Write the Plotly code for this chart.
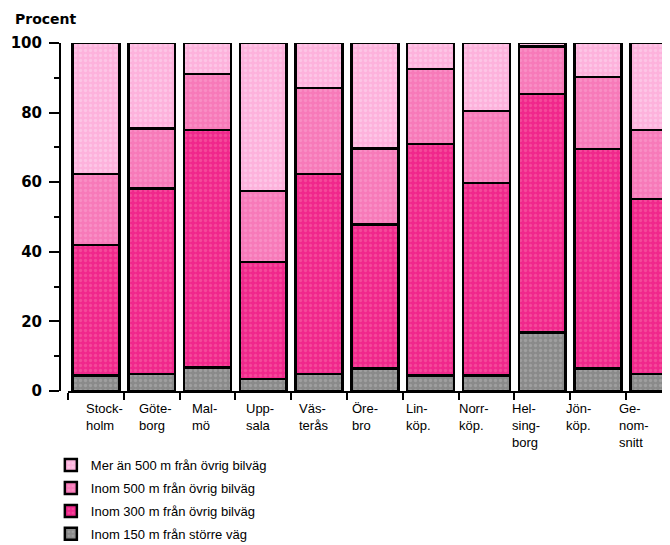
import plotly.graph_objects as go

categories = ["Stock-<br>holm", "Göte-<br>borg", "Mal-<br>mö", "Upp-<br>sala", "Väs-<br>terås",
              "Öre-<br>bro", "Lin-<br>köp.", "Norr-<br>köp.", "Hel-<br>sing-<br>borg", "Jön-<br>köp.",
              "Ge-<br>nom-<br>snitt"]

# percentage shares per segment (bottom to top)
inom150_storre = [4.4, 4.9, 6.7, 3.4, 4.9, 6.5, 4.4, 4.4, 16.8, 6.5, 4.9]
inom300_ovrig = [37.6, 53.3, 68.3, 33.6, 57.5, 41.3, 66.6, 55.3, 68.5, 63.0, 50.3]
inom500_ovrig = [20.4, 17.3, 16.1, 20.5, 24.6, 21.9, 21.5, 20.8, 13.7, 20.8, 19.8]
mer500_ovrig = [37.6, 24.5, 8.9, 42.5, 13.0, 30.3, 7.5, 19.5, 1.0, 9.7, 25.0]

series_names = ["Inom 150 m från större väg", "Inom 300 m från övrig bilväg",
                "Inom 500 m från övrig bilväg", "Mer än 500 m från övrig bilväg"]
series_values = [inom150_storre, inom300_ovrig, inom500_ovrig, mer500_ovrig]
bg_colors = ["#8a8a8a", "#f0288c", "#f77ab9", "#fdb2dc"]
fg_colors = ["#b4b4b4", "#f86aa8", "#fca2cf", "#fdd8f0"]

y_ticks = [0, 20, 40, 60, 80, 100]

x_idx = list(range(len(categories)))

fig = go.Figure()
for k, (name, vals, bg, fg) in enumerate(zip(series_names, series_values, bg_colors, fg_colors)):
    fig.add_trace(go.Bar(
        x=x_idx, y=vals, name=name, legendgroup=name, legendrank=10 - k,
        marker=dict(color=bg, line=dict(color="black", width=2.5),
                    pattern=dict(shape=".", bgcolor=bg, fgcolor=fg, size=5, solidity=0.35)),
    ))

# the page body adds an 8 px offset, so the figure is 8 px smaller
W, H = 662, 537
ml, mr, mt, mb = 52, 0, 35, 154
pw = W - ml - mr
ph = H - mt - mb

fig.update_layout(
    width=W, height=H,
    margin=dict(l=ml, r=mr, t=mt, b=mb, autoexpand=False),
    paper_bgcolor="white", plot_bgcolor="white",
    barmode="stack", bargap=0.16,
    font=dict(family="Liberation Sans, Arial, sans-serif", size=13, color="black"),
    xaxis=dict(
        domain=[8 / pw, 1], range=[-0.5, 10.29],
        tickmode="array", tickvals=x_idx, ticktext=[""] * len(x_idx),
        ticks="", showline=True, linecolor="black", linewidth=2,
        showgrid=False, zeroline=False,
        minor=dict(tickmode="array", tickvals=[i + 0.5 for i in x_idx] + [-0.5],
                   ticks="outside", ticklen=7, tickwidth=2, tickcolor="black"),
    ),
    yaxis=dict(
        anchor="free", position=0, range=[0, 100],
        tickmode="array", tickvals=y_ticks,
        ticks="outside", ticklen=10, tickwidth=2, tickcolor="black",
        ticklabelstandoff=4,
        showline=True, linecolor="black", linewidth=2,
        showgrid=False, zeroline=False,
        tickfont=dict(size=15, family="DejaVu Sans", weight="bold"),
        minor=dict(dtick=10, ticks="outside", ticklen=5, tickwidth=2, tickcolor="black"),
    ),
    legend=dict(
        x=-0.015, y=-0.17, xanchor="left", yanchor="top",
        traceorder="grouped", tracegroupgap=3,
        font=dict(size=13, family="Liberation Sans, Arial, sans-serif"),
        bgcolor="rgba(0,0,0,0)",
    ),
    showlegend=True,
)

# category labels, left aligned beneath each bar
for i, lab in enumerate(categories):
    fig.add_annotation(
        text=lab, xref="x", yref="paper", x=i, y=0,
        xanchor="left", yanchor="top", align="left",
        xshift=-12 - 2.5 * i, yshift=-8,
        showarrow=False, font=dict(size=13, family="Liberation Sans, Arial, sans-serif"),
    )

fig.add_annotation(
    text="<b>Procent</b>", xref="paper", yref="paper",
    x=-(ml - 5) / pw, y=1 + 24 / ph, xanchor="left", yanchor="middle",
    showarrow=False, font=dict(size=14, family="DejaVu Sans", color="black"),
)

fig.write_html("out.html")
